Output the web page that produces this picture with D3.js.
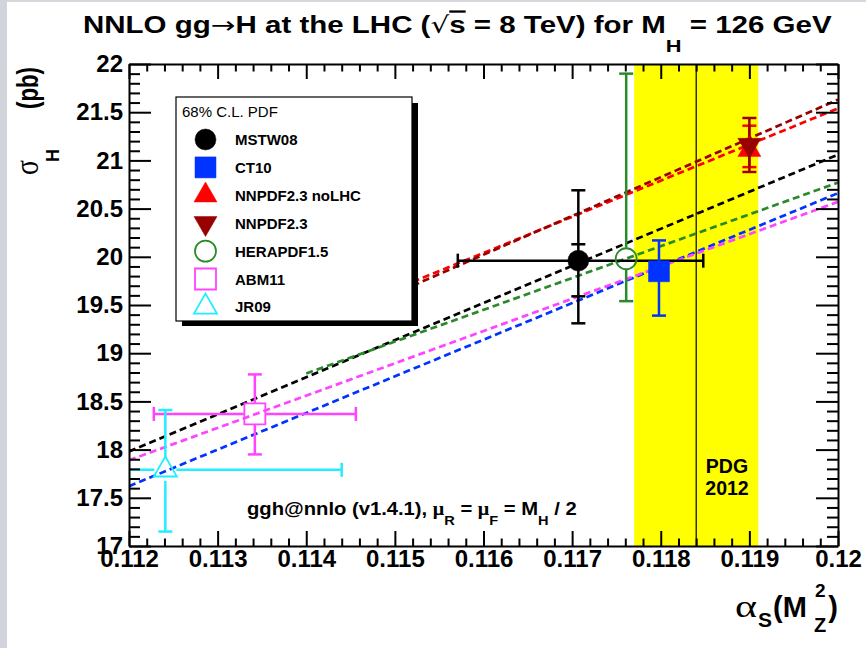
<!DOCTYPE html>
<html><head><meta charset="utf-8">
<script src="https://cdn.jsdelivr.net/npm/d3@7"></script>
<style>
body{margin:0;background:#fff;}
svg{display:block;}
text{font-family:"Liberation Sans",Arial,Helvetica,sans-serif;}
</style>
</head><body>
<svg id="chart" width="866" height="648"></svg>
<script>
// ---------- data ----------
const pdfNames   = ["MSTW08","CT10","NNPDF2.3 noLHC","NNPDF2.3","HERAPDF1.5","ABM11","JR09"];
const pdfColors  = ["#000000","#0033ff","#ff0000","#990000","#2a8a2a","#ff44ff","#22eeff"];
const pdfMarkers = ["circle","square","triangle","triangleDown","circleOpen","squareOpen","triangleOpen"];
const alphaS     = [0.11707, 0.11798, 0.1190, 0.1190, 0.11761, 0.11342, 0.11241];
const sigma      = [19.96, 19.85, 21.11, 21.16, 19.98, 18.37, 17.79];
const sigmaHi    = [20.69, 20.17, 21.36, 21.44, 21.90, 18.78, 18.41];
const sigmaLo    = [19.31, 19.39, 20.93, 20.88, 19.54, 17.95, 17.15];
const alphaLo    = [0.11571, null, null, null, null, 0.11228, 0.1104];
const alphaHi    = [0.11848, null, null, null, null, 0.11456, 0.1144];
const innerHi    = [20.13, null, null, null, null, null, null];
const innerLo    = [19.59, null, null, null, null, null, null];
// dashed σ(αs) lines: start/end
const lineA0 = [0.112, 0.112, 0.1152, 0.1152, 0.114, 0.112, null];
const lineS0 = [17.98, 17.62, 19.74, 19.70, 18.79, 17.89, null];
const lineA1 = [0.120, 0.120, 0.120, 0.120, 0.120, 0.120, null];
const lineS1 = [21.06, 20.66, 21.54, 21.63, 20.77, 20.57, null];
// PDG 2012 band
const pdgCentral = 0.1184, pdgLo = 0.1177, pdgHi = 0.1191;
// axes
const xTicks = [0.112,0.113,0.114,0.115,0.116,0.117,0.118,0.119,0.120];
const xTickLabels = ["0.112","0.113","0.114","0.115","0.116","0.117","0.118","0.119","0.12"];
const yTicks = [17,17.5,18,18.5,19,19.5,20,20.5,21,21.5,22];
const yTickLabels = ["17","17.5","18","18.5","19","19.5","20","20.5","21","21.5","22"];

// ---------- layout ----------
const svg = d3.select("#chart");
const L = 129, R = 838, T = 64, B = 546;
const x = d3.scaleLinear().domain([0.112, 0.120]).range([L, R]);
const y = d3.scaleLinear().domain([17, 22]).range([B, T]);

svg.append("rect").attr("width",866).attr("height",648).attr("fill","#fff");
svg.append("rect").attr("x",0).attr("y",0).attr("width",866).attr("height",2).attr("fill","#d6d8dd");
svg.append("rect").attr("x",0).attr("y",0).attr("width",7).attr("height",648).attr("fill","#d2d4db");

svg.append("clipPath").attr("id","plotclip").append("rect")
  .attr("x",L).attr("y",T).attr("width",R-L).attr("height",B-T);

// yellow PDG band
svg.append("rect").attr("x",x(pdgLo)).attr("y",T).attr("width",x(pdgHi)-x(pdgLo)).attr("height",B-T)
  .attr("fill","#ffff00");
svg.append("line").attr("x1",x(pdgCentral)).attr("x2",x(pdgCentral)).attr("y1",T).attr("y2",B)
  .attr("stroke","#000").attr("stroke-width",1.2);

// dashed lines
const plot = svg.append("g").attr("clip-path","url(#plotclip)");
const lineGen = d3.line().x(d=>x(d[0])).y(d=>y(d[1]));
pdfNames.forEach((n,i)=>{
  if(lineA0[i]==null) return;
  plot.append("path").datum([[lineA0[i],lineS0[i]],[lineA1[i],lineS1[i]]])
    .attr("d",lineGen).attr("fill","none").attr("stroke",pdfColors[i])
    .attr("stroke-width",2.7).attr("stroke-dasharray","7,4");
});

// legend box (covers lines)
const lg = svg.append("g");
lg.append("rect").attr("x",182).attr("y",103).attr("width",236).attr("height",223).attr("fill","#000");
lg.append("rect").attr("x",176).attr("y",97).attr("width",236).attr("height",224)
  .attr("fill","#fff").attr("stroke","#000").attr("stroke-width",1.2);
lg.append("text").attr("x",182).attr("y",117).attr("font-size",15).text("68% C.L. PDF");

function markerPath(type, sz){
  const open = type.endsWith("Open");
  let sym, size;
  if(type.startsWith("circle")){ sym=d3.symbolCircle; size=Math.PI*sz*sz/4; }
  else if(type.startsWith("square")){ sym=d3.symbolSquare; size=sz*sz; }
  else { sym=d3.symbolTriangle; size=sz*sz*Math.sqrt(3)/4; }
  return {d:d3.symbol().type(sym).size(size)(), open, down: type==="triangleDown"};
}
function drawMarker(g, cx, cy, type, color){
  const sz = type.startsWith("triangle") ? 23 : 21;
  const m = markerPath(type, sz);
  g.append("path").attr("d",m.d)
    .attr("transform",`translate(${cx},${cy})${m.down?" rotate(180)":""}`)
    .attr("fill", m.open ? "none" : color)
    .attr("stroke", color).attr("stroke-width", m.open?1.8:0.5);
}

pdfNames.forEach((n,i)=>{
  const ry = 139.5 + i*27.9;
  drawMarker(lg, 205.5, ry, pdfMarkers[i], pdfColors[i]);
  lg.append("text").attr("x",235).attr("y",ry+5.5).attr("font-size",15).attr("font-weight","bold").text(n);
});

// error bars and markers
const eg = svg.append("g").attr("clip-path","url(#plotclip)");
const cap = 7, ew = 2.5;
function seg(x1,y1,x2,y2,c){
  eg.append("line").attr("x1",x1).attr("y1",y1).attr("x2",x2).attr("y2",y2)
    .attr("stroke",c).attr("stroke-width",ew);
}
pdfNames.forEach((n,i)=>{
  const c = pdfColors[i];
  const cx = x(alphaS[i]), cy = y(sigma[i]);
  const gap = pdfMarkers[i].endsWith("Open") ? 11 : 0;
  seg(cx, y(sigmaHi[i]), cx, cy-gap, c);
  seg(cx, cy+gap, cx, y(sigmaLo[i]), c);
  seg(cx-cap, y(sigmaHi[i]), cx+cap, y(sigmaHi[i]), c);
  seg(cx-cap, y(sigmaLo[i]), cx+cap, y(sigmaLo[i]), c);
  if(innerHi[i]!=null){
    seg(cx-cap, y(innerHi[i]), cx+cap, y(innerHi[i]), c);
    seg(cx-cap, y(innerLo[i]), cx+cap, y(innerLo[i]), c);
  }
  if(alphaLo[i]!=null){
    seg(x(alphaLo[i]), cy, cx-gap, cy, c);
    seg(cx+gap, cy, x(alphaHi[i]), cy, c);
    seg(x(alphaLo[i]), cy-cap, x(alphaLo[i]), cy+cap, c);
    seg(x(alphaHi[i]), cy-cap, x(alphaHi[i]), cy+cap, c);
  }
});
pdfNames.forEach((n,i)=>{
  drawMarker(eg, x(alphaS[i]), y(sigma[i]), pdfMarkers[i], pdfColors[i]);
});

// ---------- axes ----------
const xMinor = d3.range(0,41).map(k=>+(0.112+k*0.0002).toFixed(4)).filter(v=>Math.round(v*1e4)%10!==0);
const yMinor = d3.range(0,51).map(k=>+(17+k*0.1).toFixed(1)).filter(v=>Math.round(v*10)%5!==0);

function styleAxis(g, fs){
  g.attr("font-family",null).attr("font-size",null);
  g.select(".domain").attr("stroke","#000").attr("stroke-width",2);
  g.selectAll(".tick line").attr("stroke","#000").attr("stroke-width",2);
  g.selectAll(".tick text").attr("font-size",fs).attr("font-weight","bold").attr("fill","#000")
    .style("font-family",'"Liberation Sans",Arial,sans-serif');
}
const fmtX = d => xTickLabels[xTicks.findIndex(t=>Math.abs(t-d)<1e-9)];
const fmtY = d => yTickLabels[yTicks.findIndex(t=>Math.abs(t-d)<1e-9)];

svg.append("g").attr("transform",`translate(0,${B})`)
  .call(d3.axisBottom(x).tickValues(xMinor).tickFormat("").tickSizeInner(-7.5).tickSizeOuter(0))
  .call(g=>{g.select(".domain").remove(); g.selectAll("line").attr("stroke-width",2);});
svg.append("g").attr("transform",`translate(0,${T})`)
  .call(d3.axisTop(x).tickValues(xMinor).tickFormat("").tickSizeInner(-7.5).tickSizeOuter(0))
  .call(g=>{g.select(".domain").remove(); g.selectAll("line").attr("stroke-width",2);});
svg.append("g").attr("transform",`translate(${L},0)`)
  .call(d3.axisLeft(y).tickValues(yMinor).tickFormat("").tickSizeInner(-11).tickSizeOuter(0))
  .call(g=>{g.select(".domain").remove(); g.selectAll("line").attr("stroke-width",2);});
svg.append("g").attr("transform",`translate(${R},0)`)
  .call(d3.axisRight(y).tickValues(yMinor).tickFormat("").tickSizeInner(-11).tickSizeOuter(0))
  .call(g=>{g.select(".domain").remove(); g.selectAll("line").attr("stroke-width",2);});

svg.append("g").attr("transform",`translate(0,${B})`)
  .call(d3.axisBottom(x).tickValues(xTicks).tickFormat(fmtX).tickSizeInner(-15).tickSizeOuter(0).tickPadding(4))
  .call(g=>styleAxis(g,24));
svg.append("g").attr("transform",`translate(0,${T})`)
  .call(d3.axisTop(x).tickValues(xTicks).tickFormat("").tickSizeInner(-15).tickSizeOuter(0))
  .call(g=>styleAxis(g,24));
svg.append("g").attr("transform",`translate(${L},0)`)
  .call(d3.axisLeft(y).tickValues(yTicks).tickFormat(fmtY).tickSizeInner(-22).tickSizeOuter(0).tickPadding(6))
  .call(g=>styleAxis(g,24));
svg.append("g").attr("transform",`translate(${R},0)`)
  .call(d3.axisRight(y).tickValues(yTicks).tickFormat("").tickSizeInner(-22).tickSizeOuter(0))
  .call(g=>styleAxis(g,24));

// ---------- texts ----------
function fitX(sel, x0, y0, width){
  const w = sel.node().getBBox().width;
  sel.attr("transform",`translate(${x0},${y0}) scale(${width/w},1)`);
}
// title
const title = svg.append("text").attr("x",0).attr("y",0).attr("font-size",23).attr("font-weight","bold");
title.append("tspan").text("NNLO gg");
title.append("tspan").style("font-family",'"DejaVu Sans",sans-serif').attr("font-weight","normal").text("\u2192");
title.append("tspan").text("H at the LHC (");
title.append("tspan").style("font-family",'"DejaVu Sans",sans-serif').attr("font-weight","normal").text("\u221A");
title.append("tspan").style("text-decoration","overline").text("s");
title.append("tspan").text(" = 8 TeV) for M");
title.append("tspan").attr("font-size",17).attr("dy",19).text("H");
title.append("tspan").attr("dy",-19).text(" = 126 GeV");
fitX(title, 83, 33, 750);

// annotation
const ann = svg.append("text").attr("x",0).attr("y",0).attr("font-size",18).attr("font-weight","bold");
ann.append("tspan").text("ggh@nnlo (v1.4.1), ");
ann.append("tspan").style("font-family",'"Liberation Serif",serif').text("\u03BC");
ann.append("tspan").attr("font-size",13).attr("dy",10).text("R");
ann.append("tspan").attr("dy",-10).text(" = ");
ann.append("tspan").style("font-family",'"Liberation Serif",serif').text("\u03BC");
ann.append("tspan").attr("font-size",13).attr("dy",10).text("F");
ann.append("tspan").attr("dy",-10).text(" = M");
ann.append("tspan").attr("font-size",13).attr("dy",10).text("H");
ann.append("tspan").attr("dy",-10).text(" / 2");
fitX(ann, 247, 515, 330);

// PDG label
svg.append("text").attr("x",727).attr("y",473).attr("text-anchor","middle")
  .attr("font-size",19.5).attr("font-weight","bold").text("PDG");
svg.append("text").attr("x",727).attr("y",495).attr("text-anchor","middle")
  .attr("font-size",19.5).attr("font-weight","bold").text("2012");

// y title
const yt = svg.append("g").attr("transform","translate(38,175) rotate(-90)");
yt.append("text").attr("x",0).attr("y",0).attr("font-size",34)
  .attr("textLength",15).attr("lengthAdjust","spacingAndGlyphs")
  .style("font-family",'"Liberation Serif",serif').text("\u03C3");
yt.append("text").attr("x",13).attr("y",21).attr("font-size",18).attr("font-weight","bold").text("H");
yt.append("text").attr("x",66).attr("y",0).attr("font-size",29)
  .attr("textLength",42).attr("lengthAdjust","spacingAndGlyphs")
  .attr("font-weight","bold").text("(pb)");

// x title
svg.append("text").attr("x",735).attr("y",617).attr("font-size",31)
  .attr("textLength",22).attr("lengthAdjust","spacingAndGlyphs")
  .style("font-family",'"Liberation Serif",serif').text("\u03B1");
svg.append("text").attr("x",758).attr("y",627).attr("font-size",21).attr("font-weight","bold").text("S");
svg.append("text").attr("x",773).attr("y",617).attr("font-size",29).attr("font-weight","bold").text("(M");
svg.append("text").attr("x",815).attr("y",597).attr("font-size",19).attr("font-weight","bold").text("2");
svg.append("text").attr("x",814).attr("y",632).attr("font-size",20).attr("font-weight","bold").text("Z");
svg.append("text").attr("x",838).attr("y",617).attr("text-anchor","end").attr("font-size",29)
  .attr("font-weight","bold").text(")");
</script>
</body></html>
